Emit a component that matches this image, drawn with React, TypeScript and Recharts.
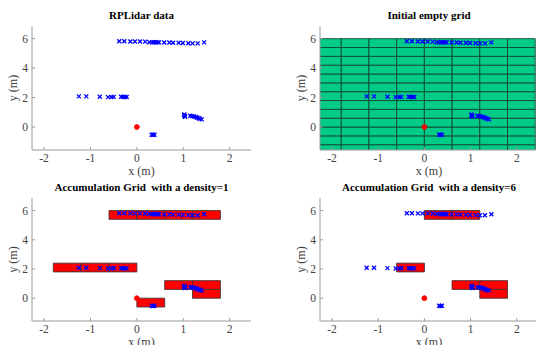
import React from 'react';
import { ScatterChart, Scatter, XAxis, YAxis, ReferenceArea } from 'recharts';

const xTicks = [-2, -1, 0, 1, 2];
const yTicks = [0, 2, 4, 6];
const xDomain = [-2.26, 2.46];
const yDomain = [-1.56, 6.86];
const cellSize = 0.6;

// lidar hits (metres)
const wallTop = [
  [-0.38, 5.82], [-0.27, 5.82], [-0.14, 5.81], [-0.04, 5.81], [0.07, 5.81], [0.18, 5.8],
  [0.27, 5.76], [0.33, 5.75], [0.37, 5.76], [0.41, 5.76], [0.45, 5.75], [0.48, 5.75],
  [0.59, 5.74], [0.7, 5.74], [0.78, 5.72], [0.9, 5.72], [0.99, 5.7], [1.11, 5.69],
  [1.2, 5.68], [1.31, 5.68], [1.45, 5.75],
];
const wallMid = [
  [-1.25, 2.08], [-1.09, 2.08], [-0.8, 2.06], [-0.62, 2.03], [-0.55, 2.04], [-0.5, 2.05],
  [-0.34, 2.06], [-0.3, 2.05], [-0.26, 2.04], [-0.22, 2.04],
];
const wallRight = [
  [1.02, 0.86], [1.02, 0.8], [1.03, 0.74], [1.04, 0.7], [1.15, 0.76], [1.19, 0.74],
  [1.23, 0.72], [1.27, 0.68], [1.3, 0.64], [1.33, 0.6], [1.36, 0.56], [1.4, 0.52],
];
const wallLow = [[0.32, -0.52], [0.35, -0.53], [0.38, -0.52]];
const sensor = [[0, 0]];

// occupancy grid cells (lower-left corners)
const gridCols = [-2.4, -1.8, -1.2, -0.6, 0, 0.6, 1.2, 1.8];
const gridRows = [-1.8, -1.2, -0.6, 0, 0.6, 1.2, 1.8, 2.4, 3.0, 3.6, 4.2, 4.8, 5.4];
const density1Cells = [
  [-0.6, 5.4], [0, 5.4], [0.6, 5.4], [1.2, 5.4],
  [-1.8, 1.8], [-1.2, 1.8], [-0.6, 1.8],
  [0.6, 0.6], [1.2, 0.6], [1.2, 0], [0, -0.6],
];
const density6Cells = [
  [0, 5.4], [0.6, 5.4], [-0.6, 1.8], [0.6, 0.6], [1.2, 0.6], [1.2, 0],
];

const lidarData = [...wallTop, ...wallMid, ...wallRight, ...wallLow].map(([x, y]) => ({ x, y }));
const sensorData = sensor.map(([x, y]) => ({ x, y }));
const emptyGrid = gridRows.flatMap((y) => gridCols.map((x) => [x, y]));

const serif = "'Liberation Serif', 'Times New Roman', serif";
const axisGray = '#9a9a9a';
const textGray = '#404040';

const XTick = (p: any) => (
  <text x={p.x} y={p.y} dy="0.71em" textAnchor="middle" fill={textGray} fontSize={11.5}
    style={{ fontFamily: serif }}>{p.payload.value}</text>
);
const YTick = (p: any) => (
  <text x={p.x} y={p.y} dy="0.355em" textAnchor="end" fill={textGray} fontSize={11.5}
    style={{ fontFamily: serif }}>{p.payload.value}</text>
);

const XMark = (props: any) => {
  const { cx, cy } = props;
  const s = 2;
  return (
    <g stroke="#0000ff" strokeWidth={1.3}>
      <line x1={cx - s} y1={cy - s} x2={cx + s} y2={cy + s} />
      <line x1={cx - s} y1={cy + s} x2={cx + s} y2={cy - s} />
    </g>
  );
};

const Dot = (props: any) => <circle cx={props.cx} cy={props.cy} r={2.4} fill="#ff0000" stroke="#ff0000" />;

interface PanelProps {
  x: number;
  y: number;
  w: number;
  h: number;
  title: string;
  box: boolean;
  cells: number[][];
  cellFill: string;
  cellStroke: string;
}

const Panel: React.FC<PanelProps> = ({ x, y, w, h, title, box, cells, cellFill, cellStroke }) => {
  const padL = 40;
  const padT = 30;
  const padR = 10;
  const padB = 30;
  return (
    <>
      <div
        style={{
          position: 'absolute', left: x, top: y - 17, width: w, textAlign: 'center',
          fontFamily: serif, fontWeight: 'bold', fontSize: 11, whiteSpace: 'pre', color: '#000',
        }}
      >
        {title}
      </div>
      <div style={{ position: 'absolute', left: x - padL, top: y - padT }}>
        <ScatterChart
          width={padL + w + padR}
          height={padT + h + padB}
          margin={{ top: padT, right: padR, bottom: 0, left: 0 }}
        >
          <XAxis
            type="number" dataKey="x" domain={xDomain} ticks={xTicks} allowDataOverflow
            height={padB} tickSize={-3} tickMargin={7} tick={<XTick />}
            axisLine={{ stroke: axisGray }} tickLine={{ stroke: axisGray }}
            label={{
              content: (p: any) => (
                <text x={p.viewBox.x + p.viewBox.width / 2} y={p.viewBox.y + 25} textAnchor="middle"
                  style={{ fontFamily: serif }} fontSize={12} fill={textGray}>x (m)</text>
              ),
            }}
          />
          <YAxis
            type="number" dataKey="y" domain={yDomain} ticks={yTicks} allowDataOverflow
            width={padL} tickSize={-3} tickMargin={7} tick={<YTick />}
            axisLine={{ stroke: axisGray }} tickLine={{ stroke: axisGray }}
            label={{
              content: (p: any) => {
                const cx = p.viewBox.x + p.viewBox.width - 19;
                const cy = p.viewBox.y + p.viewBox.height / 2;
                return (
                  <text x={cx} y={cy} transform={`rotate(-90 ${cx} ${cy})`} textAnchor="middle"
                    dominantBaseline="central" style={{ fontFamily: serif }} fontSize={12} fill={textGray}>y (m)</text>
                );
              },
            }}
          />
          {box && (
            <XAxis xAxisId="top" orientation="top" type="number" domain={xDomain} ticks={xTicks}
              allowDataOverflow height={0} tickSize={-3} tick={false}
              axisLine={{ stroke: axisGray }} tickLine={{ stroke: axisGray }} />
          )}
          {box && (
            <YAxis yAxisId="right" orientation="right" type="number" domain={yDomain} ticks={yTicks}
              allowDataOverflow width={0} tickSize={-3} tick={false}
              axisLine={{ stroke: axisGray }} tickLine={{ stroke: axisGray }} />
          )}
          {cells.map(([cx, cy], i) => (
            <ReferenceArea key={i} x1={cx} x2={cx + cellSize} y1={cy} y2={cy + cellSize}
              fill={cellFill} fillOpacity={1} stroke={cellStroke} strokeWidth={0.9} ifOverflow="hidden" />
          ))}
          <Scatter data={lidarData} shape={<XMark />} isAnimationActive={false} />
          <Scatter data={sensorData} shape={<Dot />} isAnimationActive={false} />
        </ScatterChart>
      </div>
    </>
  );
};

export default function App() {
  return (
    <div style={{ position: 'absolute', left: 0, top: 0, width: 536, height: 345, overflow: 'hidden', background: '#fff', fontFamily: serif }}>
      <Panel x={32} y={26} w={219} h={124} title="RPLidar data" box cells={[]} cellFill="#ff0000" cellStroke="#444" />
      <Panel x={320} y={26} w={218} h={124} title="Initial empty grid" box={false} cells={emptyGrid}
        cellFill="#00cc88" cellStroke="#124a30" />
      <Panel x={32} y={198} w={219} h={123} title="Accumulation Grid  with a density=1" box
        cells={density1Cells} cellFill="#ff0000" cellStroke="#4a3030" />
      <Panel x={320} y={198} w={218} h={123} title="Accumulation Grid  with a density=6" box={false}
        cells={density6Cells} cellFill="#ff0000" cellStroke="#4a3030" />
    </div>
  );
}
